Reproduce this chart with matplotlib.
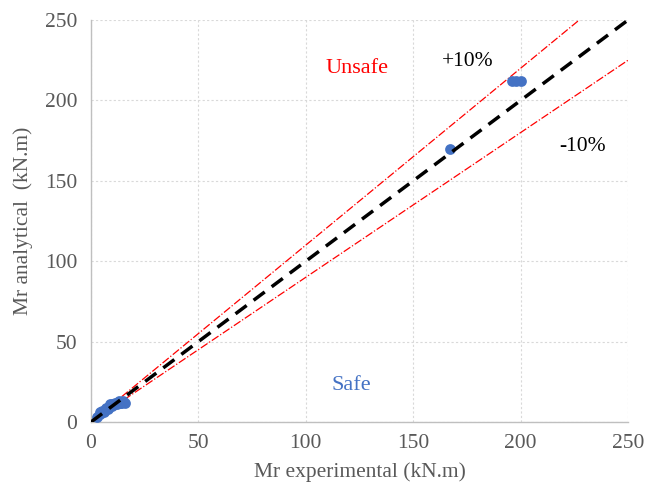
import matplotlib.pyplot as plt
import numpy as np

plt.rcParams['font.family'] = ['Liberation Serif', 'DejaVu Serif']

# experimental vs analytical moments (kN.m)
mr_exp = [3, 4, 5, 6, 7, 8, 9, 10, 11, 12, 13, 14, 15,
          5, 7, 9, 11, 13, 6, 8, 10, 12, 14, 4, 16,
          167, 196, 198, 200]
mr_ana = [3, 5, 6, 7, 8, 9, 10, 11, 11, 12, 12, 12, 13,
          7, 9, 11, 12, 13, 6, 8, 10, 11, 12, 6, 12,
          170, 212, 212, 212]

ref_x = [0, 250]
upper_factor = 1.1
lower_factor = 0.9

fig = plt.figure(figsize=(6.47, 4.92), dpi=100)
ax = fig.add_axes([0.1406, 0.1423, 0.8302, 0.8171])

ax.scatter(mr_exp, mr_ana, s=60, color='#4472C4', zorder=3, linewidths=0)
ax.plot(ref_x, ref_x, color='black', linestyle=(0, (4, 2.5)), linewidth=2.5, zorder=4)
ax.plot(ref_x, [v * upper_factor for v in ref_x], color='red', linestyle='-.',
        linewidth=0.9, zorder=2)
ax.plot(ref_x, [v * lower_factor for v in ref_x], color='red', linestyle='-.',
        linewidth=0.9, zorder=2)

ax.text(124, 220, 'Unsafe', color='red', fontsize=16, ha='center', va='center')
ax.text(175.5, 224, '+10%', color='black', fontsize=15.5, ha='center', va='center')
ax.text(229, 171.5, '-10%', color='black', fontsize=15.5, ha='center', va='center')
ax.text(121, 22.5, 'Safe', color='#4472C4', fontsize=16, ha='center', va='center')

ax.set_xlim(0, 250)
ax.set_ylim(0, 250)
ticks = np.arange(0, 251, 50)
ax.set_xticks(ticks)
ax.set_yticks(ticks)
ax.tick_params(length=0, labelsize=15.5, colors='#595959')
ax.tick_params(axis='y', pad=10)
ax.tick_params(axis='x', pad=9)
ax.grid(True, color='#D9D9D9', linestyle=(0, (2, 2)), linewidth=0.8)
ax.set_axisbelow(True)
for side in ['top', 'right']:
    ax.spines[side].set_visible(False)
for side in ['left', 'bottom']:
    ax.spines[side].set_color('#BFBFBF')
    ax.spines[side].set_linewidth(1.0)

ax.set_xlabel('Mr experimental (kN.m)', fontsize=15.5, color='#595959', labelpad=6)
ax.set_ylabel('Mr analytical  (kN.m)', fontsize=15.5, color='#595959', labelpad=8)

fig.savefig('out.png', dpi=100)
